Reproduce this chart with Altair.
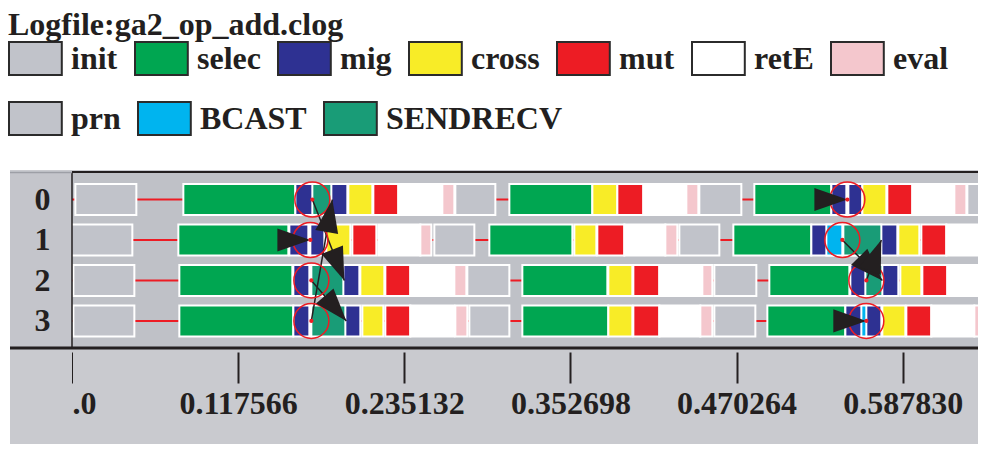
import math
import altair as alt
import pandas as pd

# ---------------- data ----------------
TITLE = "Logfile:ga2_op_add.clog"
ROW1_NAMES = ["init", "selec", "mig", "cross", "mut", "retE", "eval"]
ROW1_COLORS = ["#c1c3ca", "#00a651", "#2e3192", "#f8ec27", "#ed1c24", "#ffffff", "#f4c7cd"]
ROW2_NAMES = ["prn", "BCAST", "SENDRECV"]
ROW2_COLORS = ["#c1c3ca", "#00b4ef", "#199c77"]
RANKS = [0, 1, 2, 3]
TICK_VALUES = [0, 0.117566, 0.235132, 0.352698, 0.470264, 0.587830]
TIME_END = 0.6562

rank0_state = ["init", "selec", "mig", "SENDRECV", "cross", "mut", "retE", "eval",
               "prn", "selec", "cross", "mut", "retE", "eval",
               "prn", "selec", "mig", "BCAST", "cross", "mut", "retE", "eval", "prn"]
rank0_start = [0.00237, 0.07879, 0.15805, 0.17007, 0.19555, 0.21324, 0.23093, 0.26206,
               0.27126, 0.30948, 0.36821, 0.38590, 0.40430, 0.43472,
               0.44392, 0.48284, 0.53733, 0.54794, 0.55926, 0.57695, 0.59464, 0.62436, 0.63357]
rank0_end = [0.04553, 0.15805, 0.19484, 0.18352, 0.21253, 0.23093, 0.26206, 0.27055,
             0.29957, 0.36821, 0.38590, 0.40430, 0.43472, 0.44321,
             0.47364, 0.53733, 0.55926, 0.54936, 0.57624, 0.59464, 0.62436, 0.63286, 0.65620]

rank1_state = ["init", "selec", "mig", "BCAST", "cross", "mut", "retE", "eval",
               "prn", "selec", "cross", "mut", "retE", "eval",
               "prn", "selec", "mig", "BCAST", "SENDRECV", "cross", "mut", "retE"]
rank1_start = [-0.00329, 0.07525, 0.15380, 0.16724, 0.17998, 0.19838, 0.21678, 0.24650,
               0.25640, 0.29532, 0.35547, 0.37174, 0.39085, 0.41986,
               0.42977, 0.46798, 0.52317, 0.53378, 0.54582, 0.58473, 0.60101, 0.61870]
rank1_end = [0.04270, 0.15309, 0.17857, 0.16866, 0.19696, 0.21536, 0.24650, 0.25428,
             0.28471, 0.35406, 0.37104, 0.39085, 0.41986, 0.42835,
             0.45807, 0.52317, 0.58402, 0.54510, 0.57271, 0.59959, 0.61870, 0.65620]

rank2_state = ["init", "selec", "mig", "BCAST", "SENDRECV", "cross", "mut", "retE", "eval",
               "prn", "selec", "cross", "mut", "retE", "eval",
               "prn", "selec", "mig", "SENDRECV", "cross", "mut", "retE"]
rank2_start = [0.00096, 0.07596, 0.15663, 0.16795, 0.16937, 0.20404, 0.22173, 0.23942, 0.27055,
               0.27975, 0.31867, 0.37953, 0.39722, 0.41562, 0.44604,
               0.45454, 0.49345, 0.55077, 0.56139, 0.58615, 0.60172, 0.61941]
rank2_end = [0.04412, 0.15592, 0.20333, 0.16937, 0.19201, 0.22102, 0.23942, 0.27055, 0.27905,
             0.30948, 0.37882, 0.39651, 0.41562, 0.44604, 0.45312,
             0.48425, 0.55007, 0.58473, 0.57341, 0.60101, 0.61941, 0.65620]

rank3_state = ["init", "selec", "mig", "BCAST", "SENDRECV", "cross", "mut", "retE", "eval",
               "prn", "selec", "cross", "mut", "retE", "eval",
               "prn", "selec", "mig", "BCAST", "cross", "mut", "retE", "eval"]
rank3_start = [0.00096, 0.07596, 0.15663, 0.16795, 0.16937, 0.20546, 0.22173, 0.23942, 0.27126,
               0.28117, 0.31867, 0.37953, 0.39722, 0.41562, 0.44463,
               0.45454, 0.49204, 0.54724, 0.55856, 0.57341, 0.59040, 0.60809, 0.63851]
rank3_end = [0.04412, 0.15663, 0.20404, 0.16937, 0.19343, 0.22032, 0.23942, 0.27055, 0.27975,
             0.30948, 0.37953, 0.39651, 0.41562, 0.44463, 0.45312,
             0.48355, 0.54724, 0.57271, 0.56209, 0.58969, 0.60809, 0.63851, 0.65620]

# messages (arrows) between ranks
MSG_FROM_RANK = [0, 3, 2, 1, 2]
MSG_FROM_T = [0.17007, 0.16937, 0.16937, 0.54510, 0.56209]
MSG_TO_RANK = [2, 0, 3, 2, 1]
MSG_TO_T = [0.19272, 0.18423, 0.19413, 0.57341, 0.57271]
# arrowheads drawn without a visible shaft
SELF_RANK = [1, 0, 3]
SELF_T = [0.16866, 0.54866, 0.56209]
# event markers (circles)
EVENT_RANK = [0, 1, 2, 3, 0, 1, 2, 3]
EVENT_T = [0.17007, 0.16866, 0.16937, 0.16937, 0.54866, 0.54510, 0.56209, 0.56209]

# ---------------- layout / style ----------------
W, H = 906, 176
BOTTOM = 96
X_MAX = 0.6411
Y_MIN, Y_MAX = -0.68, 3.67
HALF = 0.383
FONT = "Liberation Serif"
INK = "#231f20"
RED = "#ed1c24"
PANEL = "#c9cacf"
COLBG = "#c4c5cb"
PLOTBG = "#bfc1c7"
SWATCH = "M-1,-1L2.2,-1L2.2,1L-1,1Z"
ARROW = "M0,0L-2,-0.7L-2,0.7Z"

rows = []
for r, (sts, s0, s1) in enumerate([(rank0_state, rank0_start, rank0_end),
                                    (rank1_state, rank1_start, rank1_end),
                                    (rank2_state, rank2_start, rank2_end),
                                    (rank3_state, rank3_start, rank3_end)]):
    for i, (s, a, b) in enumerate(zip(sts, s0, s1)):
        rows.append({"rank": r, "state": s, "t0": a, "t1": b, "ord": i})
states = pd.DataFrame(rows)
states["y0"] = states["rank"] - HALF
states["y1"] = states["rank"] + HALF
states1 = states[states["state"].isin(ROW1_NAMES)]
states2 = states[states["state"].isin(ROW2_NAMES)]

timeline = pd.DataFrame({"rank": RANKS, "t0": [0.0] * 4, "t1": [TIME_END] * 4})

px_t = W / X_MAX
px_r = H / (Y_MAX - Y_MIN)
msgs = pd.DataFrame({"r0": MSG_FROM_RANK, "a": MSG_FROM_T, "r1": MSG_TO_RANK, "b": MSG_TO_T})
heads = []
for r0, a, r1, b in zip(MSG_FROM_RANK, MSG_FROM_T, MSG_TO_RANK, MSG_TO_T):
    ang = math.degrees(math.atan2((r1 - r0) * px_r, (b - a) * px_t)) % 360
    heads.append({"t": b, "rank": r1, "angle": ang})
for r, t in zip(SELF_RANK, SELF_T):
    heads.append({"t": t, "rank": r, "angle": 0.0})
heads = pd.DataFrame(heads)
events = pd.DataFrame({"t": EVENT_T, "rank": EVENT_RANK})

xscale = alt.Scale(domain=[0, X_MAX], nice=False, zero=False)
yscale = alt.Scale(domain=[Y_MIN, Y_MAX], reverse=True, nice=False, zero=False)

xaxis = alt.Axis(
    values=TICK_VALUES,
    labelExpr="datum.value == 0 ? '.0' : format(datum.value, '.6f')",
    title=None, grid=False, domain=False, ticks=True, tickSize=31,
    tickWidth={"condition": {"test": "datum.value == 0", "value": 1}, "value": 2},
    tickColor=INK, offset=4,
    labelFont=FONT, labelFontSize=32, labelFontWeight="bold", labelColor=INK,
    labelPadding=5, labelBaseline="top",
    labelAlign={"condition": {"test": "datum.value == 0", "value": "left"}, "value": "center"},
    labelFlush=False, labelOverlap=False, labelBound=False, zindex=1)
yaxis = alt.Axis(
    values=RANKS, format="d", title=None, grid=False, domain=False, ticks=False,
    labelFont=FONT, labelFontSize=32, labelFontWeight="bold", labelColor=INK,
    labelAlign="center", labelPadding=30, labelBaseline="middle", zindex=1)

legend_common = dict(
    orient="none", legendX=-64, direction="horizontal",
    symbolType=SWATCH, symbolSize=1089, symbolStrokeColor="#2b2b2b",
    symbolStrokeWidth=2, symbolOpacity=1,
    labelFont=FONT, labelFontSize=32, labelFontWeight="bold", labelColor=INK,
    labelOffset=28, labelLimit=500, columnPadding=13, padding=0)

legend1 = alt.Legend(
    title=TITLE, legendY=-162,
    titleFont=FONT, titleFontSize=32, titleFontWeight="bold", titleColor=INK,
    titlePadding=-1, titleAnchor="start", titleLimit=800, **legend_common)
legend2 = alt.Legend(title=None, legendY=-71, **legend_common)

color1 = alt.Color("state:N", scale=alt.Scale(domain=ROW1_NAMES, range=ROW1_COLORS),
                   legend=legend1, sort=ROW1_NAMES)
fill2 = alt.Fill("state:N", scale=alt.Scale(domain=ROW2_NAMES, range=ROW2_COLORS),
                 legend=legend2, sort=ROW2_NAMES)

one = alt.Data(values=[{"k": 1}])


def deco_rect(x, x2, y, y2, col):
    return alt.Chart(one).mark_rect(color=col).encode(
        x=alt.value(x), x2=alt.value(x2), y=alt.value(y), y2=alt.value(y2))


panel = deco_rect(-62, W, -2, H + BOTTOM, PANEL)
col_bg = deco_rect(-62, 0, 0, H, COLBG)
plot_bg = deco_rect(0, W, 0, H, PLOTBG)

tl = alt.Chart(timeline).mark_rule(color=RED, strokeWidth=2, clip=True).encode(
    x=alt.X("t0:Q", scale=xscale, axis=xaxis), x2="t1:Q",
    y=alt.Y("rank:Q", scale=yscale, axis=yaxis))


def state_layer(df, paint, shadow):
    if shadow:
        mk = alt.Chart(df).mark_rect(xOffset=2, yOffset=2, clip=True)
    else:
        mk = alt.Chart(df).mark_rect(stroke="white", strokeWidth=2, clip=True)
    enc = dict(
        x=alt.X("t0:Q", scale=xscale, axis=xaxis), x2="t1:Q",
        y=alt.Y("y0:Q", scale=yscale, axis=yaxis), y2="y1:Q",
        order="ord:Q")
    if isinstance(paint, alt.Color):
        enc["color"] = paint
    else:
        enc["fill"] = paint
    return mk.encode(**enc)


shadow1 = state_layer(states1, color1, True)
shadow2 = state_layer(states2, fill2, True)
bars1 = state_layer(states1, color1, False)
bars2 = state_layer(states2, fill2, False)

lines = alt.Chart(msgs).mark_rule(color=INK, strokeWidth=1.5).encode(
    x=alt.X("a:Q", scale=xscale, axis=xaxis), x2="b:Q",
    y=alt.Y("r0:Q", scale=yscale, axis=yaxis), y2="r1:Q")

circles = alt.Chart(events).mark_point(shape="circle", size=1225, filled=False,
                                       color=RED, strokeWidth=1.5, opacity=1).encode(
    x=alt.X("t:Q", scale=xscale, axis=xaxis),
    y=alt.Y("rank:Q", scale=yscale, axis=yaxis))

arrowheads = alt.Chart(heads).mark_point(shape=ARROW, size=1089, filled=True,
                                         color=INK, opacity=1, strokeWidth=0).encode(
    x=alt.X("t:Q", scale=xscale, axis=xaxis),
    y=alt.Y("rank:Q", scale=yscale, axis=yaxis),
    angle=alt.Angle("angle:Q", scale=None))

dots = alt.Chart(events).mark_point(shape="circle", size=18, filled=True,
                                    color=RED, opacity=1).encode(
    x=alt.X("t:Q", scale=xscale, axis=xaxis),
    y=alt.Y("rank:Q", scale=yscale, axis=yaxis))


def deco_rule(x, x2, y, y2, sw, col=INK):
    return alt.Chart(one).mark_rule(color=col, strokeWidth=sw).encode(
        x=alt.value(x), x2=alt.value(x2), y=alt.value(y), y2=alt.value(y2))


frame_top = deco_rule(0, W, 0, 0, 2)
frame_left = deco_rule(0, 0, 0, H, 1.5)
frame_bottom = deco_rule(-62, W, H, H, 3)
col_top = deco_rule(-62, 0, 0.5, 0.5, 1.5, "#9d9fa6")

chart = alt.layer(
    panel, col_bg, plot_bg, tl, shadow1, shadow2, bars1, bars2,
    lines, circles, arrowheads, dots,
    frame_top, frame_left, frame_bottom, col_top
).properties(
    width=W, height=H,
    padding={"left": 64, "top": 164, "right": 0, "bottom": BOTTOM},
    autosize=alt.AutoSizeParams(type="none"),
    background="white",
).configure_view(stroke=None)

chart.save("out.html", embed_options={"renderer": "svg", "actions": False})
